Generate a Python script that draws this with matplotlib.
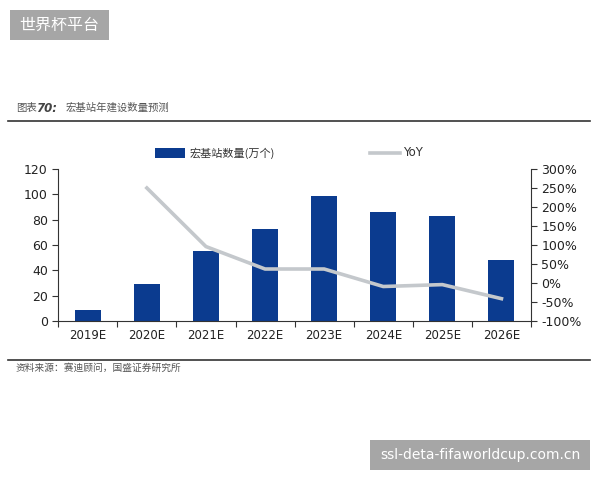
import matplotlib
matplotlib.use("Agg")
import matplotlib.pyplot as plt
from matplotlib.patches import Rectangle
from matplotlib.lines import Line2D
import numpy as np

plt.rcParams['font.family'] = ['DejaVu Sans', 'Noto Sans CJK SC']

categories = ["2019E", "2020E", "2021E", "2022E", "2023E", "2024E", "2025E", "2026E"]
stations = [9, 29, 55, 73, 99, 86, 83, 48]
yoy = [np.nan, 250, 96, 37, 37, -9, -4, -41]
left_ticks = [0, 20, 40, 60, 80, 100, 120]
right_ticks = [-100, -50, 0, 50, 100, 150, 200, 250, 300]

bar_color = "#0b3b8f"
line_color = "#c4c8cc"

fig = plt.figure(figsize=(6, 4.8), dpi=100)
ax = fig.add_axes([0.097, 0.331, 0.788, 0.317])
x = np.arange(len(categories))
ax.bar(x, stations, width=0.44, color=bar_color, zorder=2)
ax.set_xlim(-0.5, len(categories) - 0.5)
ax.set_ylim(0, 120)
ax.set_yticks(left_ticks)
ax.set_xticks(np.arange(-0.5, len(categories), 1.0))
ax.set_xticklabels([])
ax.set_xticks(x, minor=True)
ax.set_xticklabels(categories, minor=True, fontsize=8.5, color="#222222")
ax.tick_params(axis='x', which='minor', length=0, pad=6)
ax.tick_params(axis='x', which='major', length=4, direction='out', color="#333333")
ax.tick_params(axis='y', labelsize=9, length=4, color="#333333", labelcolor="#222222")
for s in ['top', 'right']:
    ax.spines[s].set_visible(False)
ax.spines['left'].set_color("#333333")
ax.spines['bottom'].set_color("#333333")

ax2 = ax.twinx()
ax2.plot(x, yoy, color=line_color, lw=2.6, zorder=3)
ax2.set_ylim(-100, 300)
ax2.set_yticks(right_ticks)
ax2.set_yticklabels([f"{v}%" for v in right_ticks])
ax2.tick_params(axis='y', labelsize=9, length=4, color="#333333", labelcolor="#222222")
for s in ['top', 'left', 'bottom']:
    ax2.spines[s].set_visible(False)
ax2.spines['right'].set_color("#333333")

# legend
fig.patches.append(Rectangle((155/600, 1-158/480), 30/600, 10/480, transform=fig.transFigure,
                             facecolor=bar_color, edgecolor='none'))
fig.text(190/600, 1-153/480, "宏基站数量(万个)", fontsize=8, va='center', color="#333333",
         family=['Noto Sans CJK SC', 'DejaVu Sans'], style='italic')
fig.lines.append(Line2D([370/600, 400/600], [1-153/480, 1-153/480], transform=fig.transFigure,
                        color=line_color, lw=2.6))
fig.text(403/600, 1-153/480, "YoY", fontsize=8.5, va='center', color="#333333")

# title and source
fig.text(16/600, 1-108/480, "图表", fontsize=7.5, va='center', color="#555555",
         family=['Noto Sans CJK SC', 'DejaVu Sans'])
fig.text(36/600, 1-108/480, "70:", fontsize=8.5, va='center', color="#444444",
         weight='bold', style='italic')
fig.text(66/600, 1-108/480, "宏基站年建设数量预测", fontsize=7.5, va='center', color="#555555",
         family=['Noto Sans CJK SC', 'DejaVu Sans'])
fig.lines.append(Line2D([8/600, 590/600], [1-121/480, 1-121/480], transform=fig.transFigure,
                        color="#333333", lw=1.2))
fig.lines.append(Line2D([8/600, 590/600], [1-360/480, 1-360/480], transform=fig.transFigure,
                        color="#333333", lw=1.2))
fig.text(16/600, 1-368/480, "资料来源：赛迪顾问，国盛证券研究所", fontsize=7, va='center', color="#555555",
         family=['Noto Sans CJK SC', 'DejaVu Sans'])

# watermarks
fig.patches.append(Rectangle((10/600, 1-40/480), 99/600, 30/480, transform=fig.transFigure,
                             facecolor="#a6a6a6", edgecolor='none'))
fig.text(59/600, 1-25/480, "世界杯平台", fontsize=11.5, ha='center', va='center', color="white",
         family=['Noto Sans CJK SC', 'DejaVu Sans'])
fig.patches.append(Rectangle((370/600, 1-470/480), 220/600, 30/480, transform=fig.transFigure,
                             facecolor="#a6a6a6", edgecolor='none'))
fig.text(480/600, 1-455/480, "ssl-deta-fifaworldcup.com.cn", fontsize=10, ha='center', va='center',
         color="white")

fig.savefig("out.png", dpi=100)
